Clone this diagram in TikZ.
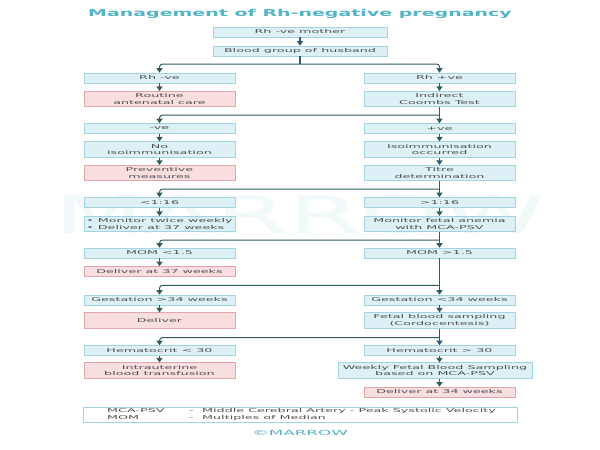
\documentclass[tikz,border=0pt]{standalone}
\usepackage{fontspec}
\newfontfamily\boxfont[FakeStretch=2.4]{DejaVu Sans}
\newfontfamily\titlefont[FakeStretch=2.0]{DejaVu Sans}
\usetikzlibrary{arrows.meta}
\definecolor{bxfill}{HTML}{DDF0F6}
\definecolor{bxborder}{HTML}{A3D3DF}
\definecolor{pkfill}{HTML}{F8DEDE}
\definecolor{pkborder}{HTML}{E2A7AA}
\definecolor{txt}{HTML}{505050}
\definecolor{arrc}{HTML}{2F5A66}
\definecolor{ttl}{HTML}{52B4C7}
\definecolor{wmc}{HTML}{F1F9FB}
\begin{document}
\begin{tikzpicture}[x=1pt,y=-1pt,
  bx/.style={draw=bxborder, fill=bxfill, line width=0.6pt, minimum width=151pt,
    minimum height=10pt, inner sep=0pt, align=center, text=txt,
    font={\boxfont\fontsize{5.3}{6.4}\selectfont}},
  pk/.style={bx, draw=pkborder, fill=pkfill},
  tall/.style={minimum height=15.5pt},
  txtnode/.style={inner sep=0pt, text=txt, font={\boxfont\fontsize{5.3}{6.4}\selectfont}},
  arr/.style={-{Triangle[width=6pt,length=4.5pt]}, line width=1.6pt, draw=arrc},
  br/.style={arr, line width=1pt, rounded corners=3pt}]
\useasboundingbox (0,0) rectangle (600,450);
\fill[white] (0,0) rectangle (600,450);
% watermark
\node[text=wmc, font={\titlefont\fontsize{52}{52}\selectfont}] (wm) at (300,215) {MARROW};
% title
\node[text=ttl, font={\titlefont\bfseries\fontsize{9.5}{9.5}\selectfont}] (title) at (300,14) {Management of Rh-negative pregnancy};
% nodes
\node[bx, minimum width=174pt] (m) at (300,32) {Rh -ve mother};
\node[bx, minimum width=174pt] (h) at (300,51) {Blood group of husband};
\node[bx] (l1) at (159.5,78) {Rh -ve};
\node[bx] (r1) at (439.5,78) {Rh +ve};
\node[pk,tall] (l2) at (159.5,99) {Routine\\antenatal care};
\node[bx,tall] (r2) at (439.5,99) {Indirect\\Coombs Test};
\node[bx] (l3) at (159.5,128.5) {-ve};
\node[bx] (r3) at (439.5,128.5) {+ve};
\node[bx,tall] (l4) at (159.5,149.5) {No\\isoimmunisation};
\node[bx,tall] (r4) at (439.5,149.5) {Isoimmunisation\\occurred};
\node[pk,tall] (l5) at (159.5,173) {Preventive\\measures};
\node[bx,tall] (r5) at (439.5,173) {Titre\\determination};
\node[bx] (l6) at (159.5,202.5) {<1:16};
\node[bx] (r6) at (439.5,202.5) {>1:16};
\node[bx,tall,align=left] (l7) at (159.5,224) {• Monitor twice weekly\\• Deliver at 37 weeks};
\node[bx,tall] (r7) at (439.5,224) {Monitor fetal anemia\\with MCA-PSV};
\node[bx] (l8) at (159.5,253) {MOM <1.5};
\node[bx] (r8) at (439.5,253) {MOM >1.5};
\node[pk] (l9) at (159.5,271.5) {Deliver at 37 weeks};
\node[bx] (l10) at (159.5,300) {Gestation >34 weeks};
\node[bx] (r10) at (439.5,300) {Gestation <34 weeks};
\node[pk,tall] (l11) at (159.5,320.5) {Deliver};
\node[bx,tall] (r11) at (439.5,320.5) {Fetal blood sampling\\(Cordocentesis)};
\node[bx] (l12) at (159.5,350.5) {Hematocrit < 30};
\node[bx] (r12) at (439.5,350.5) {Hematocrit > 30};
\node[pk,tall] (l13) at (159.5,370.5) {Intrauterine\\blood transfusion};
\node[bx,tall,minimum width=194pt] (r13) at (435,370.5) {Weekly Fetal Blood Sampling\\based on MCA-PSV};
\node[pk] (r14) at (439.5,392) {Deliver at 34 weeks};
% legend
\node[bx, fill=white, minimum width=434pt, minimum height=15pt] (lg) at (300,414.5) {};
\node[txtnode, anchor=base west] (lga) at (107,412.8) {MCA-PSV};
\node[txtnode, anchor=base west] (lgb) at (189,412.8) {-};
\node[txtnode, anchor=base west] (lgc) at (202,412.8) {Middle Cerebral Artery - Peak Systolic Velocity};
\node[txtnode, anchor=base west] (lgd) at (107,419.4) {MOM};
\node[txtnode, anchor=base west] (lge) at (189,419.4) {-};
\node[txtnode, anchor=base west] (lgf) at (202,419.4) {Multiples of Median};
\node[text=ttl, inner sep=0pt, font={\boxfont\fontsize{7}{7}\selectfont}] (logo) at (300,433) {©MARROW};
% connectors
\draw[arr] (m) -- (h);
\coordinate (b1) at (300,64);
\draw[arr,-] (h.south) -- (b1);
\draw[br] (b1) -| (l1.north);
\draw[br] (b1) -| (r1.north);
\draw[arr] (l1) -- (l2);
\draw[arr] (r1) -- (r2);
\path (r2.south) ++(0,8) coordinate (b2);
\draw[arr] (r2) -- (r3);
\draw[br] (b2) -| (l3.north);
\draw[arr] (l3) -- (l4);
\draw[arr] (l4) -- (l5);
\draw[arr] (r3) -- (r4);
\draw[arr] (r4) -- (r5);
\path (r5.south) ++(0,8) coordinate (b3);
\draw[arr] (r5) -- (r6);
\draw[br] (b3) -| (l6.north);
\draw[arr] (l6) -- (l7);
\draw[arr] (r6) -- (r7);
\path (r7.south) ++(0,8) coordinate (b4);
\draw[arr] (r7) -- (r8);
\draw[br] (b4) -| (l8.north);
\draw[arr] (l8) -- (l9);
\path (r8.south) ++(0,27) coordinate (b5);
\draw[arr] (r8) -- (r10);
\draw[br] (b5) -| (l10.north);
\draw[arr] (l10) -- (l11);
\draw[arr] (r10) -- (r11);
\path (r11.south) ++(0,9) coordinate (b6);
\draw[arr] (r11) -- (r12);
\draw[br] (b6) -| (l12.north);
\draw[arr] (l12) -- (l13);
\draw[arr] (r12.south) -- (r12.south |- r13.north);
\draw[arr] (r14.north |- r13.south) -- (r14.north);
\end{tikzpicture}
\end{document}
